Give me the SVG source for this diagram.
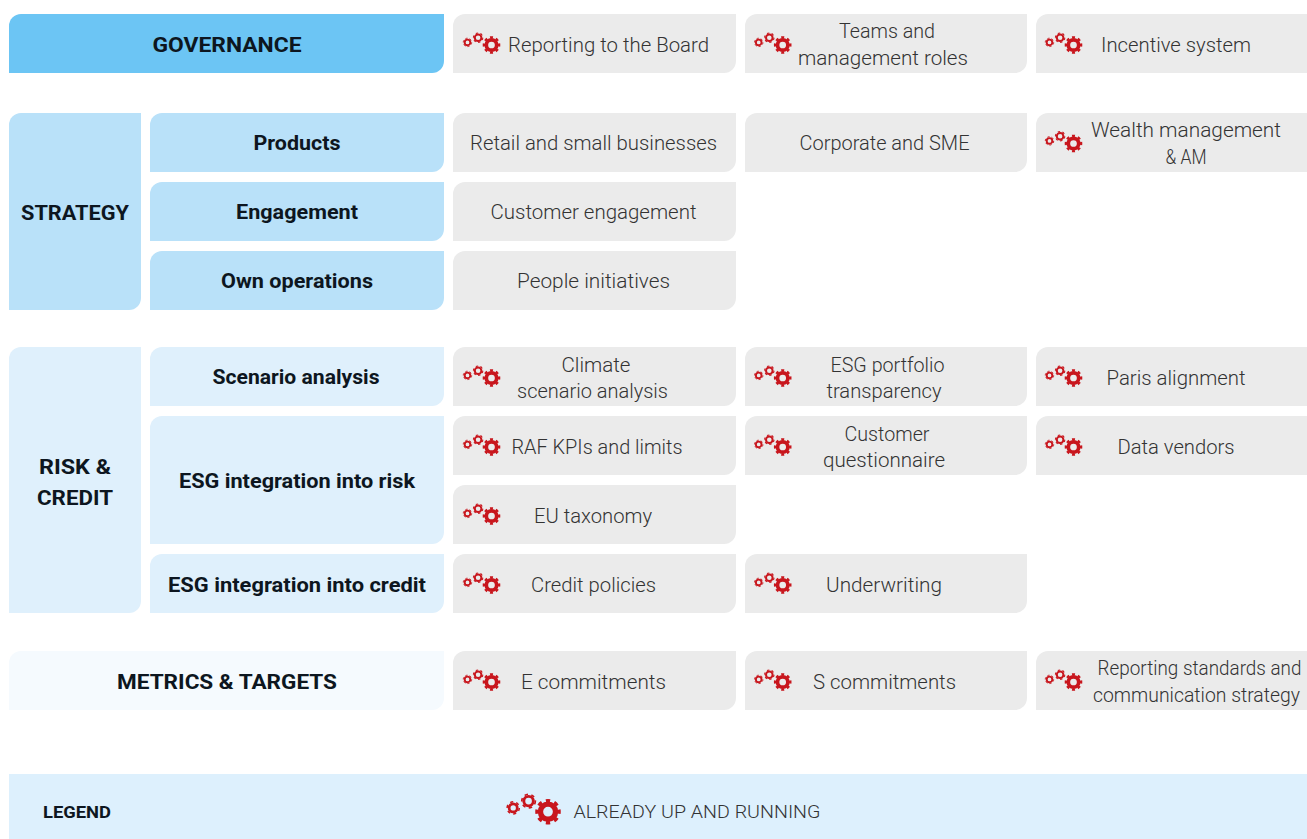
<svg xmlns="http://www.w3.org/2000/svg" width="1307" height="839" viewBox="0 0 1307 839">
<style>
text{font-family:Roboto,"Liberation Sans",sans-serif;text-anchor:middle}
.h{font-weight:700;font-size:21px;fill:#0d1620}
.s{font-weight:700;font-size:20px;fill:#0d1620}
.t{font-weight:300;font-size:21px;fill:#333}
.n{font-size:19.5px}
.g{fill:#ebebeb}.b0{fill:#6cc5f4}.b1{fill:#b9e1f9}.b2{fill:#dff0fc}.b3{fill:#f5fafe}
.r{fill:none;stroke:#c8161d}
</style>
<defs>
<g id="gears">
<g class="r"><circle r="5.2" stroke-width="3.7"/><circle r="7.6" stroke-width="2.4" pathLength="16" stroke-dasharray="1 1" stroke-dashoffset="0.5"/>
<circle cx="-13.4" cy="-7.3" r="3.3" stroke-width="2"/><circle cx="-13.4" cy="-7.3" r="4.7" stroke-width="1.1" pathLength="12" stroke-dasharray="1 1"/>
<circle cx="-24" cy="-2.6" r="2.8" stroke-width="1.9"/><circle cx="-24" cy="-2.6" r="4.2" stroke-width="1" pathLength="12" stroke-dasharray="1 1"/></g>
</g>
</defs>
<rect width="1307" height="839" fill="#fff"/>
<g id="governance"><path class="b0" d="M21 14H444V61A12 12 0 0 1 432 73H9V26A12 12 0 0 1 21 14Z"/><text class="h" x="227" y="52" textLength="149" lengthAdjust="spacingAndGlyphs">GOVERNANCE</text></g>
<g id="reporting-board"><path class="g" d="M465 14H736V61A12 12 0 0 1 724 73H453V26A12 12 0 0 1 465 14Z"/><use href="#gears" x="491.5" y="45"/><text class="t" x="608.5" y="52" textLength="201" lengthAdjust="spacingAndGlyphs">Reporting to the Board</text></g>
<g id="teams"><path class="g" d="M757 14H1027V61A12 12 0 0 1 1015 73H745V26A12 12 0 0 1 757 14Z"/><use href="#gears" x="782.7" y="45"/><text class="t" x="887" y="38" textLength="96" lengthAdjust="spacingAndGlyphs">Teams and</text><text class="t" x="883" y="65" textLength="170" lengthAdjust="spacingAndGlyphs">management roles</text></g>
<g id="incentive"><path class="g" d="M1048 14H1307V73H1036V26A12 12 0 0 1 1048 14Z"/><use href="#gears" x="1073.5" y="45"/><text class="t" x="1176" y="52" textLength="150" lengthAdjust="spacingAndGlyphs">Incentive system</text></g>

<g id="strategy"><path class="b1" d="M21 113H141V298A12 12 0 0 1 129 310H9V125A12 12 0 0 1 21 113Z"/><text class="h" x="75" y="220" textLength="108" lengthAdjust="spacingAndGlyphs">STRATEGY</text></g>
<g id="products"><path class="b1" d="M162 113H444V160A12 12 0 0 1 432 172H150V125A12 12 0 0 1 162 113Z"/><text class="s" x="297" y="150" textLength="87" lengthAdjust="spacingAndGlyphs">Products</text></g>
<g id="retail"><path class="g" d="M465 113H736V160A12 12 0 0 1 724 172H453V125A12 12 0 0 1 465 113Z"/><text class="t" x="593.5" y="150" textLength="247" lengthAdjust="spacingAndGlyphs">Retail and small businesses</text></g>
<g id="corporate"><path class="g" d="M757 113H1027V160A12 12 0 0 1 1015 172H745V125A12 12 0 0 1 757 113Z"/><text class="t" x="884.5" y="150" textLength="170" lengthAdjust="spacingAndGlyphs">Corporate and SME</text></g>
<g id="wealth"><path class="g" d="M1048 113H1307V172H1036V125A12 12 0 0 1 1048 113Z"/><use href="#gears" x="1073.5" y="143.5"/><text class="t" x="1186" y="137" textLength="190" lengthAdjust="spacingAndGlyphs">Wealth management</text><text class="t" x="1186" y="164" textLength="41" lengthAdjust="spacingAndGlyphs">&amp; AM</text></g>
<g id="engagement"><path class="b1" d="M162 182H444V229A12 12 0 0 1 432 241H150V194A12 12 0 0 1 162 182Z"/><text class="s" x="297" y="219" textLength="122" lengthAdjust="spacingAndGlyphs">Engagement</text></g>
<g id="customer-engagement"><path class="g" d="M465 182H736V229A12 12 0 0 1 724 241H453V194A12 12 0 0 1 465 182Z"/><text class="t" x="593.5" y="219" textLength="206" lengthAdjust="spacingAndGlyphs">Customer engagement</text></g>
<g id="own-operations"><path class="b1" d="M162 251H444V298A12 12 0 0 1 432 310H150V263A12 12 0 0 1 162 251Z"/><text class="s" x="297" y="288" textLength="152" lengthAdjust="spacingAndGlyphs">Own operations</text></g>
<g id="people"><path class="g" d="M465 251H736V298A12 12 0 0 1 724 310H453V263A12 12 0 0 1 465 251Z"/><text class="t" x="593.5" y="288" textLength="153" lengthAdjust="spacingAndGlyphs">People initiatives</text></g>

<g id="risk-credit"><path class="b2" d="M21 347H141V601A12 12 0 0 1 129 613H9V359A12 12 0 0 1 21 347Z"/><text class="h" x="75" y="474" textLength="72" lengthAdjust="spacingAndGlyphs">RISK &amp;</text><text class="h" x="75" y="505" textLength="76" lengthAdjust="spacingAndGlyphs">CREDIT</text></g>
<g id="scenario"><path class="b2" d="M162 347H444V394A12 12 0 0 1 432 406H150V359A12 12 0 0 1 162 347Z"/><text class="s" x="296" y="384" textLength="167" lengthAdjust="spacingAndGlyphs">Scenario analysis</text></g>
<g id="climate"><path class="g" d="M465 347H736V394A12 12 0 0 1 724 406H453V359A12 12 0 0 1 465 347Z"/><use href="#gears" x="491.5" y="378"/><text class="t" x="596" y="372" textLength="69" lengthAdjust="spacingAndGlyphs">Climate</text><text class="t" x="592.5" y="398" textLength="151" lengthAdjust="spacingAndGlyphs">scenario analysis</text></g>
<g id="portfolio"><path class="g" d="M757 347H1027V394A12 12 0 0 1 1015 406H745V359A12 12 0 0 1 757 347Z"/><use href="#gears" x="782.7" y="378"/><text class="t" x="887.5" y="372" textLength="114" lengthAdjust="spacingAndGlyphs">ESG portfolio</text><text class="t" x="884" y="398" textLength="115" lengthAdjust="spacingAndGlyphs">transparency</text></g>
<g id="paris"><path class="g" d="M1048 347H1307V406H1036V359A12 12 0 0 1 1048 347Z"/><use href="#gears" x="1073.5" y="378"/><text class="t" x="1176" y="385" textLength="139" lengthAdjust="spacingAndGlyphs">Paris alignment</text></g>
<g id="esg-risk"><path class="b2" d="M162 416H444V532A12 12 0 0 1 432 544H150V428A12 12 0 0 1 162 416Z"/><text class="s" x="297" y="488" textLength="236" lengthAdjust="spacingAndGlyphs">ESG integration into risk</text></g>
<g id="raf"><path class="g" d="M465 416H736V463A12 12 0 0 1 724 475H453V428A12 12 0 0 1 465 416Z"/><use href="#gears" x="491.5" y="447"/><text class="t" x="597" y="454" textLength="171" lengthAdjust="spacingAndGlyphs">RAF KPIs and limits</text></g>
<g id="questionnaire"><path class="g" d="M757 416H1027V463A12 12 0 0 1 1015 475H745V428A12 12 0 0 1 757 416Z"/><use href="#gears" x="782.7" y="447"/><text class="t" x="887" y="441" textLength="85" lengthAdjust="spacingAndGlyphs">Customer</text><text class="t" x="884" y="467" textLength="122" lengthAdjust="spacingAndGlyphs">questionnaire</text></g>
<g id="vendors"><path class="g" d="M1048 416H1307V475H1036V428A12 12 0 0 1 1048 416Z"/><use href="#gears" x="1073.5" y="447"/><text class="t" x="1176" y="454" textLength="117" lengthAdjust="spacingAndGlyphs">Data vendors</text></g>
<g id="taxonomy"><path class="g" d="M465 485H736V532A12 12 0 0 1 724 544H453V497A12 12 0 0 1 465 485Z"/><use href="#gears" x="491.5" y="516"/><text class="t" x="593" y="523" textLength="118" lengthAdjust="spacingAndGlyphs">EU taxonomy</text></g>
<g id="esg-credit"><path class="b2" d="M162 554H444V601A12 12 0 0 1 432 613H150V566A12 12 0 0 1 162 554Z"/><text class="s" x="297" y="592" textLength="258" lengthAdjust="spacingAndGlyphs">ESG integration into credit</text></g>
<g id="policies"><path class="g" d="M465 554H736V601A12 12 0 0 1 724 613H453V566A12 12 0 0 1 465 554Z"/><use href="#gears" x="491.5" y="585"/><text class="t" x="593.5" y="592" textLength="125" lengthAdjust="spacingAndGlyphs">Credit policies</text></g>
<g id="underwriting"><path class="g" d="M757 554H1027V601A12 12 0 0 1 1015 613H745V566A12 12 0 0 1 757 554Z"/><use href="#gears" x="782.7" y="585"/><text class="t" x="884" y="592" textLength="116" lengthAdjust="spacingAndGlyphs">Underwriting</text></g>

<g id="metrics"><path class="b3" d="M21 651H444V698A12 12 0 0 1 432 710H9V663A12 12 0 0 1 21 651Z"/><text class="h" x="227" y="689" textLength="220" lengthAdjust="spacingAndGlyphs">METRICS &amp; TARGETS</text></g>
<g id="e-commitments"><path class="g" d="M465 651H736V698A12 12 0 0 1 724 710H453V663A12 12 0 0 1 465 651Z"/><use href="#gears" x="491.5" y="682"/><text class="t" x="593.5" y="689" textLength="145" lengthAdjust="spacingAndGlyphs">E commitments</text></g>
<g id="s-commitments"><path class="g" d="M757 651H1027V698A12 12 0 0 1 1015 710H745V663A12 12 0 0 1 757 651Z"/><use href="#gears" x="782.7" y="682"/><text class="t" x="884.5" y="689" textLength="143" lengthAdjust="spacingAndGlyphs">S commitments</text></g>
<g id="standards"><path class="g" d="M1048 651H1307V710H1036V663A12 12 0 0 1 1048 651Z"/><use href="#gears" x="1073.5" y="682"/><text class="t n" x="1199.5" y="675" textLength="204" lengthAdjust="spacingAndGlyphs">Reporting standards and</text><text class="t n" x="1196.5" y="702" textLength="207" lengthAdjust="spacingAndGlyphs">communication strategy</text></g>

<g id="legend"><rect x="9" y="774" width="1298" height="65" fill="#ddf0fd"/><text x="77" y="818" font-size="16" font-weight="700" fill="#0d1620" textLength="68" lengthAdjust="spacingAndGlyphs">LEGEND</text><use href="#gears" transform="translate(548 811.7) scale(1.45)"/><text x="697" y="818" font-size="19" font-weight="300" fill="#333" textLength="247" lengthAdjust="spacingAndGlyphs">ALREADY UP AND RUNNING</text></g>
</svg>
